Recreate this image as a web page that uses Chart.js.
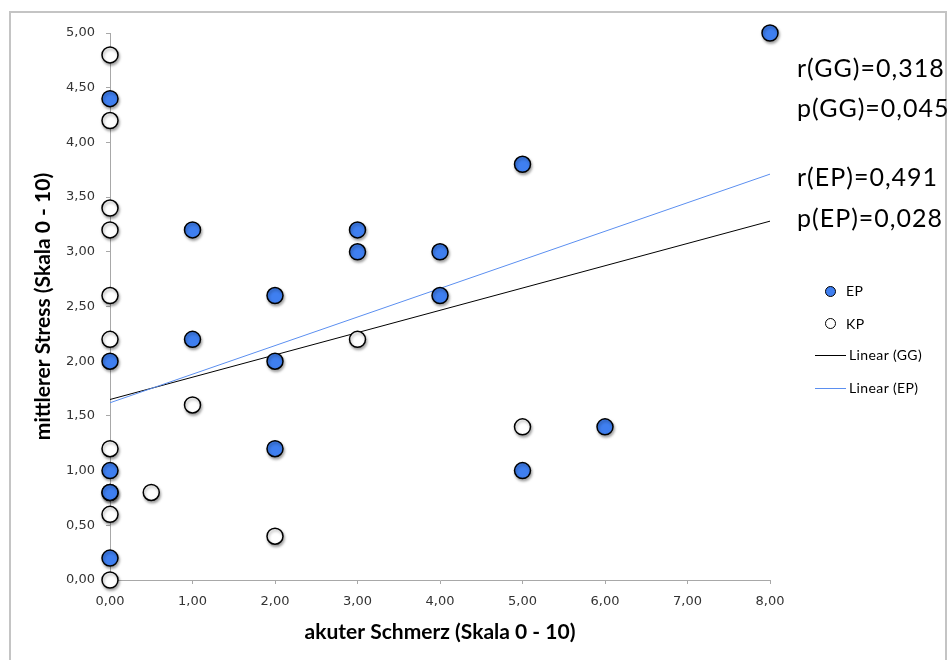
<!DOCTYPE html>
<html>
<head>
<meta charset="utf-8">
<script src="https://cdn.jsdelivr.net/npm/chart.js@4.4.0/dist/chart.umd.min.js"></script>
<style>
    html, body { margin: 0; padding: 0; background: #fff; }
    #wrap { position: relative; width: 948px; height: 660px; overflow: hidden; }
    #frame { position: absolute; left: 9px; top: 11px; width: 934px; height: 660px;
             border-left: 2px solid #c4c4c4; border-top: 2px solid #c4c4c4; border-right: 2px solid #c4c4c4; }
    canvas { position: absolute; left: 0; top: 0; }
    .stat { position: absolute; left: 797px; font-family: Lato, sans-serif; font-size: 25px; letter-spacing: 1px; color: #000; line-height: 1; }
    .leg { position: absolute; font-family: Lato, sans-serif; font-size: 14px; letter-spacing: 0.4px; color: #000; line-height: 1; }
    .dot { position: absolute; width: 9px; height: 9px; border-radius: 50%; border: 1.5px solid #000; }
    .ln { position: absolute; width: 31px; height: 0; }
</style>
</head>
<body>
<div id="wrap">
    <div id="frame"></div>
    <canvas id="chart" width="948" height="660"></canvas>

    <div class="stat" style="top:55px">r(GG)=0,318</div>
    <div class="stat" style="top:95px">p(GG)=0,045</div>
    <div class="stat" style="top:164px">r(EP)=0,491</div>
    <div class="stat" style="top:205px">p(EP)=0,028</div>

    <div class="dot" style="left:825px; top:286px; background:#3f7ff0"></div>
    <div class="leg" style="left:846px; top:284px">EP</div>
    <div class="dot" style="left:825px; top:318px; background:#fff"></div>
    <div class="leg" style="left:846px; top:317px">KP</div>
    <div class="ln" style="left:815px; top:355px; border-top:1px solid #000"></div>
    <div class="leg" style="left:849px; top:348px">Linear (GG)</div>
    <div class="ln" style="left:815px; top:388px; border-top:1px solid #5b8ff0"></div>
    <div class="leg" style="left:849px; top:381px">Linear (EP)</div>
</div>

<script>
// EP (blue filled)
const epX = [0, 0, 0, 0, 0, 1, 1, 2, 2, 2, 3, 3, 4, 4, 5, 5, 6, 8];
const epY = [4.4, 2.0, 1.0, 0.8, 0.2, 3.2, 2.2, 2.6, 2.0, 1.2, 3.2, 3.0, 3.0, 2.6, 3.8, 1.0, 1.4, 5.0];

// KP (white)
const kpX = [0, 0, 0, 0, 0, 0, 0, 0, 0, 0, 0.5, 1, 2, 3, 5];
const kpY = [4.8, 4.2, 3.4, 3.2, 2.6, 2.2, 1.2, 0.8, 0.6, 0.0, 0.8, 1.6, 0.4, 2.2, 1.4];

// trend lines (start / end)
const trendX = [0, 8];
const trendGG = [1.65, 3.28];
const trendEP = [1.62, 3.71];

const xTicks = [0, 1, 2, 3, 4, 5, 6, 7, 8];
const yTicks = [0, 0.5, 1, 1.5, 2, 2.5, 3, 3.5, 4, 4.5, 5];

const toPts = (xs, ys) => xs.map((x, i) => ({ x: x, y: ys[i] }));
const fmt = v => Number(v).toFixed(2).replace('.', ',');

// Schatten unter den Punkten
const shadowPlugin = {
    id: 'pointShadow',
    beforeDatasetDraw(chart, args) {
        if (chart.data.datasets[args.index].type !== 'scatter') return;
        const ctx = chart.ctx;
        ctx.save();
        ctx.shadowColor = 'rgba(0,0,0,0.35)';
        ctx.shadowBlur = 3;
        ctx.shadowOffsetX = 1;
        ctx.shadowOffsetY = 2;
    },
    afterDatasetDraw(chart, args) {
        if (chart.data.datasets[args.index].type !== 'scatter') return;
        chart.ctx.restore();
    }
};

const tickFont = { family: 'DejaVu Sans', size: 13 };
const titleFont = { family: 'Lato', size: 21, weight: 'bold' };

new Chart(document.getElementById('chart'), {
    data: {
        datasets: [
            {
                type: 'scatter', label: 'KP', data: toPts(kpX, kpY),
                backgroundColor: '#ffffff', borderColor: '#000', borderWidth: 1.5,
                pointRadius: 8, order: 1
            },
            {
                type: 'scatter', label: 'EP', data: toPts(epX, epY),
                backgroundColor: '#3f7ff0', borderColor: '#000', borderWidth: 1.5,
                pointRadius: 8, order: 0
            },
            {
                type: 'line', label: 'Linear (GG)', data: toPts(trendX, trendGG),
                borderColor: '#000', borderWidth: 1, pointRadius: 0, fill: false, order: 3
            },
            {
                type: 'line', label: 'Linear (EP)', data: toPts(trendX, trendEP),
                borderColor: '#5b8ff0', borderWidth: 1, pointRadius: 0, fill: false, order: 2
            }
        ]
    },
    options: {
        responsive: false,
        animation: false,
        clip: false,
        layout: { padding: { top: 33, right: 178, left: 0, bottom: 0 } },
        plugins: { legend: { display: false }, tooltip: { enabled: false } },
        scales: {
            x: {
                type: 'linear', min: 0, max: 8,
                afterBuildTicks: s => { s.ticks = xTicks.map(v => ({ value: v })); },
                afterFit: s => { s.height = 80; },
                ticks: { font: tickFont, color: '#333', callback: fmt, padding: 10 },
                grid: { drawOnChartArea: false, drawTicks: true, tickLength: 4, color: '#a8a8a8' },
                border: { color: '#a8a8a8', width: 1 },
                title: { display: true, text: 'akuter Schmerz (Skala 0 - 10)', font: titleFont, color: '#000', padding: { top: 0, bottom: 15 } }
            },
            y: {
                type: 'linear', min: 0, max: 5,
                afterBuildTicks: s => { s.ticks = yTicks.map(v => ({ value: v })); },
                afterFit: s => { s.width = 110; },
                ticks: { font: tickFont, color: '#333', callback: fmt, padding: 11 },
                grid: { drawOnChartArea: false, drawTicks: true, tickLength: 4, color: '#a8a8a8' },
                border: { color: '#a8a8a8', width: 1 },
                title: { display: true, text: 'mittlerer Stress (Skala 0 - 10)', font: titleFont, color: '#000', padding: { top: 31, bottom: 0 } }
            }
        }
    },
    plugins: [shadowPlugin]
});
</script>
</body>
</html>
